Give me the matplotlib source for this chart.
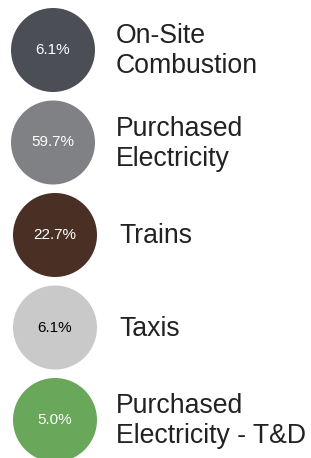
import matplotlib
matplotlib.use("Agg")
import matplotlib.pyplot as plt
from matplotlib.patches import Circle

labels = ["On-Site\nCombustion", "Purchased\nElectricity", "Trains", "Taxis",
          "Purchased\nElectricity - T&D"]
shares = [6.1, 59.7, 22.7, 6.1, 5.0]
colors = ["#4b4e55", "#808184", "#4a2f25", "#c8c9c8", "#69a75a"]
text_colors = ["white", "white", "white", "black", "white"]

plt.rcParams['font.family'] = ['Liberation Sans', 'DejaVu Sans']

fig = plt.figure(figsize=(3.11, 4.58), dpi=100)
ax = fig.add_axes([0, 0, 1, 1])
ax.set_xlim(0, 311)
ax.set_ylim(458, 0)
ax.set_aspect('equal')
ax.axis('off')

# one row per category, ~92 px apart
for i, (lab, v, c, tc) in enumerate(zip(labels, shares, colors, text_colors)):
    cy = 50 + i * 92.5
    cx = 53 if i < 2 else 55
    ax.add_patch(Circle((cx, cy), 42, color=c, lw=0))
    ax.text(cx, cy, f"{v:.1f}%", color=tc, fontsize=11, ha='center', va='center')
    ax.text(116 if i != 2 and i != 3 else 119, cy + 1, lab, fontsize=19.2, ha='left',
            va='center', color='#222222', linespacing=1.2)

fig.savefig("out.png", dpi=100)
